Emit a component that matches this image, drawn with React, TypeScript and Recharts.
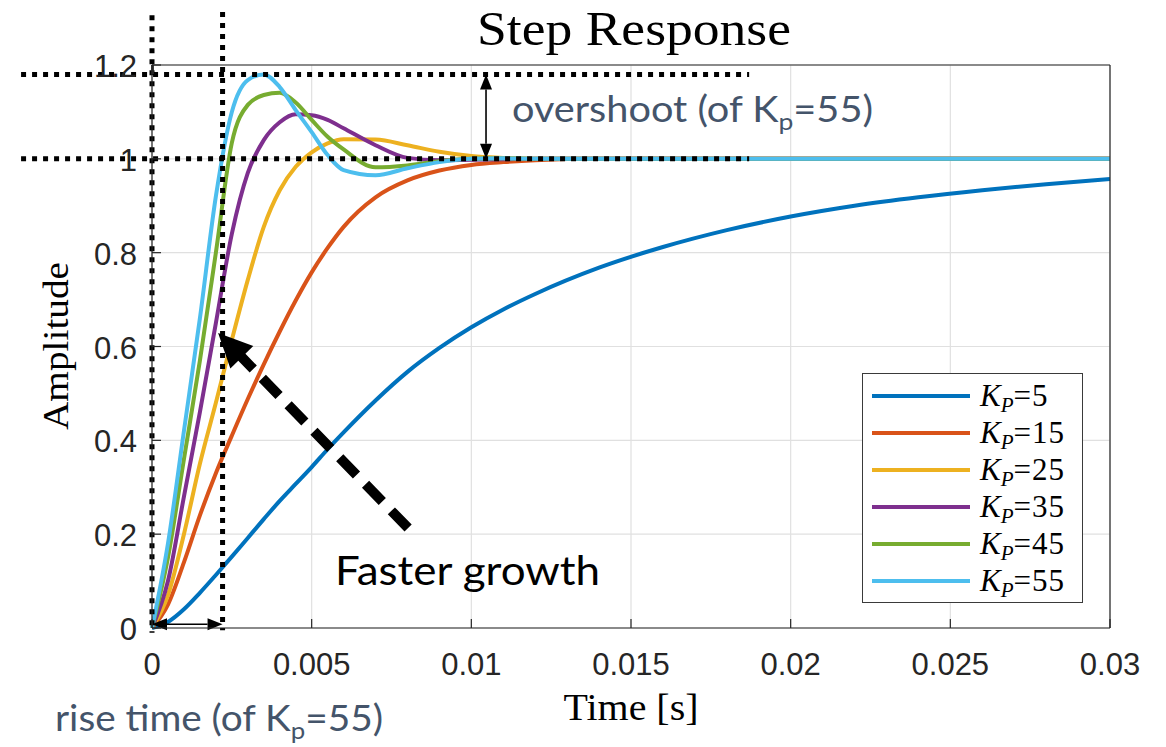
import React from "react";
import { LineChart, Line, XAxis, YAxis, CartesianGrid, ReferenceLine } from "recharts";

// time samples [s]
const timeS = [
  0, 0.0005, 0.001, 0.0015, 0.002, 0.0025, 0.003, 0.0035, 0.004, 0.0045, 0.005, 0.0055, 0.006, 0.007,
  0.008, 0.009, 0.01, 0.011, 0.012, 0.014, 0.016, 0.018, 0.02, 0.022, 0.024, 0.026, 0.028, 0.03,
];

// step response amplitudes, one array per gain
const kp5 = [
  0, 0.013, 0.04, 0.075, 0.113, 0.152, 0.192, 0.232, 0.271, 0.307, 0.343, 0.381, 0.417, 0.485,
  0.546, 0.597, 0.641, 0.679, 0.712, 0.768, 0.812, 0.848, 0.877, 0.9, 0.918, 0.933, 0.946, 0.957,
];
const kp15 = [
  0, 0.05, 0.14, 0.24, 0.33, 0.41, 0.488, 0.562, 0.632, 0.698, 0.758, 0.81, 0.855, 0.918,
  0.954, 0.975, 0.987, 0.993, 0.997, 1, 1, 1, 1, 1, 1, 1, 1, 1,
];
const kp25 = [
  0, 0.07, 0.2, 0.35, 0.48, 0.614, 0.742, 0.855, 0.933, 0.983, 1.014, 1.033, 1.042, 1.041,
  1.029, 1.015, 1.006, 1.002, 1, 1, 1, 1, 1, 1, 1, 1, 1, 1,
];
const kp35 = [
  0, 0.1, 0.28, 0.46, 0.65, 0.84, 0.97, 1.04, 1.078, 1.095, 1.093, 1.083, 1.065, 1.029,
  1.002, 0.997, 0.998, 0.999, 1, 1, 1, 1, 1, 1, 1, 1, 1, 1,
];
const kp45 = [
  0, 0.15, 0.36, 0.57, 0.8, 1.034, 1.115, 1.136, 1.141, 1.12, 1.083, 1.047, 1.02, 0.982,
  0.986, 0.995, 1, 1.001, 1, 1, 1, 1, 1, 1, 1, 1, 1, 1,
];
const kp55 = [
  0, 0.18, 0.42, 0.66, 0.92, 1.1, 1.168, 1.18, 1.153, 1.104, 1.057, 1.008, 0.976, 0.965,
  0.98, 0.993, 1, 1.001, 1, 1, 1, 1, 1, 1, 1, 1, 1, 1,
];

const gains = [5, 15, 25, 35, 45, 55];
const series = [kp5, kp15, kp25, kp35, kp45, kp55];

const xTicks = [0, 0.005, 0.01, 0.015, 0.02, 0.025, 0.03];
const xTickLabels = ["0", "0.005", "0.01", "0.015", "0.02", "0.025", "0.03"];
const yTicks = [0, 0.2, 0.4, 0.6, 0.8, 1, 1.2];
const yTickLabels = ["0", "0.2", "0.4", "0.6", "0.8", "1", "1.2"];

// annotation anchors (data units)
const riseTime = 0.00221;
const peakValue = 1.18;
const finalValue = 1;
const overshootArrowT = 0.01046;

const colors = ["#0072BD", "#D95319", "#EDB120", "#7E2F8E", "#77AC30", "#4DBEEE"];
const axisColor = "#262626";
const noteColor = "#44546A";
const tickFont = '"Liberation Sans", Arial, sans-serif';
const texFont = '"Liberation Serif", "Times New Roman", serif';
const noteFont = 'Lato, "Open Sans", sans-serif';

const rows = timeS.map((t, i) => {
  const r: Record<string, number> = { t };
  series.forEach((s, k) => {
    r[`kp${gains[k]}`] = s[i];
  });
  return r;
});

function BottomTick(p: any) {
  const i = xTicks.indexOf(p.payload.value);
  return (
    <g>
      <line x1={p.x} x2={p.x} y1={p.y} y2={p.y - 9} stroke={axisColor} strokeWidth={1.2} />
      <text x={p.x} y={p.y + 47} textAnchor="middle" fontFamily={tickFont} fontSize={31} fill={axisColor}>
        {xTickLabels[i]}
      </text>
    </g>
  );
}

function TopTick(p: any) {
  return <line x1={p.x} x2={p.x} y1={p.y} y2={p.y + 9} stroke={axisColor} strokeWidth={1.2} />;
}

function LeftTick(p: any) {
  const i = yTicks.indexOf(p.payload.value);
  return (
    <g>
      <line x1={p.x} x2={p.x + 9} y1={p.y} y2={p.y} stroke={axisColor} strokeWidth={1.2} />
      <text x={p.x - 15} y={p.y + 12} textAnchor="end" fontFamily={tickFont} fontSize={31} fill={axisColor}>
        {yTickLabels[i]}
      </text>
    </g>
  );
}

function RightTick(p: any) {
  return <line x1={p.x} x2={p.x - 9} y1={p.y} y2={p.y} stroke={axisColor} strokeWidth={1.2} />;
}

function head(tx: number, ty: number, dx: number, dy: number, len: number, half: number) {
  const bx = tx - dx * len;
  const by = ty - dy * len;
  return `${tx},${ty} ${bx - dy * half},${by + dx * half} ${bx + dy * half},${by - dx * half}`;
}

// thin double-headed arrow
function DoubleArrow(p: any) {
  const { x1, y1, x2, y2 } = p;
  const L = Math.hypot(x2 - x1, y2 - y1) || 1;
  const dx = (x2 - x1) / L;
  const dy = (y2 - y1) / L;
  const len = 15;
  return (
    <g>
      <line x1={x1 + dx * len} y1={y1 + dy * len} x2={x2 - dx * len} y2={y2 - dy * len} stroke="#000" strokeWidth={1.6} />
      <polygon points={head(x2, y2, dx, dy, len, 6)} fill="#000" />
      <polygon points={head(x1, y1, -dx, -dy, len, 6)} fill="#000" />
    </g>
  );
}

// thick dashed arrow, tip at the second point
function DashedArrow(p: any) {
  const { x1, y1, x2, y2 } = p;
  const L = Math.hypot(x2 - x1, y2 - y1) || 1;
  const dx = (x2 - x1) / L;
  const dy = (y2 - y1) / L;
  const len = 34;
  return (
    <g>
      <line x1={x1} y1={y1} x2={x2 - dx * (len - 2)} y2={y2 - dy * (len - 2)} stroke="#000" strokeWidth={10} strokeDasharray="24 13" />
      <polygon points={head(x2, y2, dx, dy, len, 16)} fill="#000" />
    </g>
  );
}

const dotted = { stroke: "#000", strokeWidth: 5, strokeDasharray: "5 6" };

export default function App() {
  return (
    <div style={{ position: "absolute", left: 0, top: 0, width: 1166, height: 747, background: "#fff" }}>
      <LineChart width={1166} height={747} data={rows} margin={{ top: 64, right: 55, bottom: 69, left: 92 }}>
        <CartesianGrid stroke="#e0e0e0" strokeWidth={1.2} />
        <XAxis
          dataKey="t"
          type="number"
          domain={[0, 0.03]}
          ticks={xTicks}
          interval={0}
          height={50}
          tickSize={0}
          tickMargin={0}
          tickLine={false}
          axisLine={{ stroke: axisColor, strokeWidth: 1.2 }}
          tick={(p: any) => <BottomTick {...p} />}
        />
        <XAxis
          xAxisId="top"
          orientation="top"
          type="number"
          domain={[0, 0.03]}
          ticks={xTicks}
          interval={0}
          height={1}
          tickSize={0}
          tickMargin={0}
          tickLine={false}
          axisLine={{ stroke: axisColor, strokeWidth: 1.2 }}
          tick={(p: any) => <TopTick {...p} />}
        />
        <YAxis
          type="number"
          domain={[0, 1.2]}
          ticks={yTicks}
          interval={0}
          width={60}
          tickSize={0}
          tickMargin={0}
          tickLine={false}
          axisLine={{ stroke: axisColor, strokeWidth: 1.2 }}
          tick={(p: any) => <LeftTick {...p} />}
        />
        <YAxis
          yAxisId="right"
          orientation="right"
          type="number"
          domain={[0, 1.2]}
          ticks={yTicks}
          interval={0}
          width={1}
          tickSize={0}
          tickMargin={0}
          tickLine={false}
          axisLine={{ stroke: axisColor, strokeWidth: 1.2 }}
          tick={(p: any) => <RightTick {...p} />}
        />
        {gains.map((g, k) => (
          <Line
            key={g}
            type="monotone"
            dataKey={`kp${g}`}
            stroke={colors[k]}
            strokeWidth={4}
            dot={false}
            isAnimationActive={false}
          />
        ))}
        <ReferenceLine ifOverflow="visible" segment={[{ x: 0, y: 1.306 }, { x: 0, y: -0.01 }]} {...dotted} />
        <ReferenceLine ifOverflow="visible" segment={[{ x: riseTime, y: 1.313 }, { x: riseTime, y: -0.005 }]} {...dotted} />
        <ReferenceLine ifOverflow="visible" segment={[{ x: -0.0041, y: peakValue }, { x: 0.0187, y: peakValue }]} {...dotted} />
        <ReferenceLine ifOverflow="visible" segment={[{ x: -0.0041, y: finalValue }, { x: 0.0187, y: finalValue }]} {...dotted} />
        <ReferenceLine
          ifOverflow="visible"
          segment={[{ x: overshootArrowT, y: peakValue }, { x: overshootArrowT, y: finalValue }]}
          shape={(p: any) => <DoubleArrow {...p} />}
        />
        <ReferenceLine
          ifOverflow="visible"
          segment={[{ x: 0, y: 0.008 }, { x: riseTime, y: 0.008 }]}
          shape={(p: any) => <DoubleArrow {...p} />}
        />
        <ReferenceLine
          ifOverflow="visible"
          segment={[{ x: 0.00802, y: 0.213 }, { x: 0.00207, y: 0.629 }]}
          shape={(p: any) => <DashedArrow {...p} />}
        />
      </LineChart>

      <svg width={1166} height={747} style={{ position: "absolute", left: 0, top: 0, pointerEvents: "none" }}>
        <text x={634} y={45} textAnchor="middle" fontFamily={texFont} fontSize={48} textLength={314} lengthAdjust="spacingAndGlyphs">
          Step Response
        </text>
        <text
          transform="translate(68,346) rotate(-90)"
          textAnchor="middle"
          fontFamily={texFont}
          fontSize={36}
          textLength={168}
          lengthAdjust="spacingAndGlyphs"
        >
          Amplitude
        </text>
        <text x={631} y={720} textAnchor="middle" fontFamily={texFont} fontSize={38} textLength={135} lengthAdjust="spacingAndGlyphs">
          Time [s]
        </text>
        <text x={512} y={122} fontFamily={noteFont} fontSize={36} fill={noteColor} textLength={361} lengthAdjust="spacingAndGlyphs">
          overshoot (of K<tspan fontSize={24} dy={8}>p</tspan>
          <tspan dy={-8}>=55)</tspan>
        </text>
        <text x={55} y={731} fontFamily={noteFont} fontSize={36} fill={noteColor} textLength={328} lengthAdjust="spacingAndGlyphs">
          rise time (of K<tspan fontSize={24} dy={8}>p</tspan>
          <tspan dy={-8}>=55)</tspan>
        </text>
        <text x={335} y={585} fontFamily={noteFont} fontSize={40} fill="#000" textLength={265} lengthAdjust="spacingAndGlyphs">
          Faster growth
        </text>
      </svg>

      <div
        style={{
          position: "absolute",
          left: 862,
          top: 373,
          width: 221,
          height: 230,
          boxSizing: "border-box",
          border: "1.5px solid #3a3a3a",
          background: "#fff",
        }}
      >
        {gains.map((g, k) => (
          <div
            key={g}
            style={{ position: "absolute", left: 0, top: 3 + 37 * k, height: 37, width: "100%", display: "flex", alignItems: "center" }}
          >
            <div style={{ marginLeft: 9, width: 98, height: 4, background: colors[k] }} />
            <span style={{ marginLeft: 10, fontFamily: texFont, fontSize: 31, color: "#000", lineHeight: 1, whiteSpace: "nowrap" }}>
              <i>K</i>
              <i style={{ fontSize: 21, position: "relative", top: 6 }}>P</i>
              <span style={{ letterSpacing: 1 }}>={g}</span>
            </span>
          </div>
        ))}
      </div>
    </div>
  );
}
